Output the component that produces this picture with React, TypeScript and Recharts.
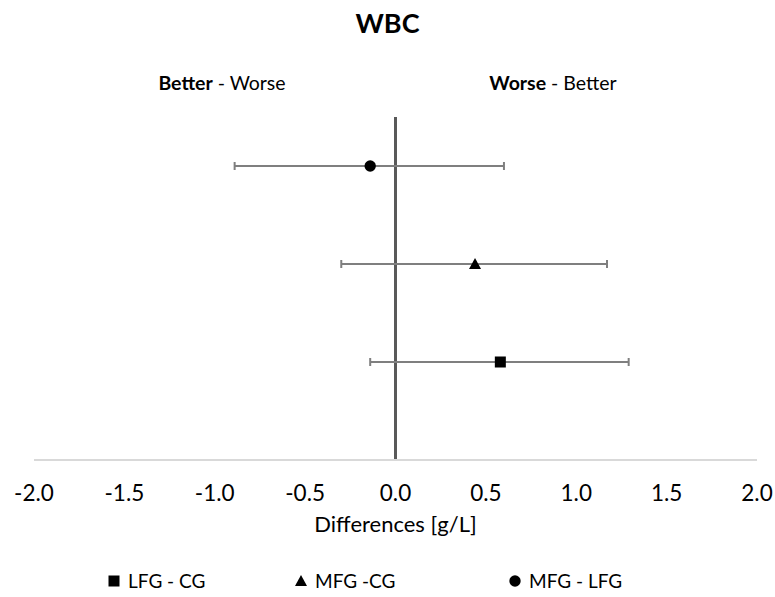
import React from 'react';
import { ScatterChart, Scatter, XAxis, YAxis, ErrorBar, ReferenceLine, Legend } from 'recharts';

const series = ['LFG - CG', 'MFG -CG', 'MFG - LFG'];
const shapes = ['square', 'triangle', 'circle'];
const rows = [1, 2, 3];
const estimates = [0.58, 0.44, -0.14];
const lower = [-0.14, -0.3, -0.89];
const upper = [1.29, 1.17, 0.6];
const xTicks = [-2, -1.5, -1, -0.5, 0, 0.5, 1, 1.5, 2];

const font = 'Lato, "Open Sans", sans-serif';

const seriesData = series.map((name, i) => [
  { x: estimates[i], y: rows[i], err: [estimates[i] - lower[i], upper[i] - estimates[i]] },
]);

const drawMarker = (shape: string, cx: number, cy: number) => {
  if (shape === 'square') return <rect x={cx - 5.5} y={cy - 5.5} width={11} height={11} fill="#000" />;
  if (shape === 'triangle')
    return <polygon points={`${cx},${cy - 6} ${cx + 6},${cy + 5} ${cx - 6},${cy + 5}`} fill="#000" />;
  return <circle cx={cx} cy={cy} r={5.7} fill="#000" />;
};

const legendContent = () => (
  <div style={{ display: 'flex', fontFamily: font, fontSize: 19, color: '#000' }}>
    {series.map((name, i) => (
      <div key={name} style={{ display: 'flex', alignItems: 'center', position: 'absolute', left: [108, 295, 509][i] }}>
        <svg width={12} height={12} style={{ marginRight: 8, overflow: 'visible' }}>{drawMarker(shapes[i], 6, 6)}</svg>
        <span>{name}</span>
      </div>
    ))}
  </div>
);

export default function App() {
  return (
    <div style={{ position: 'absolute', left: 0, top: 0, width: 775, height: 597, background: '#fff' }}>
      <div style={{ position: 'absolute', top: 6, width: 775, textAlign: 'center', fontFamily: font, fontWeight: 'bold', fontSize: 27 }}>WBC</div>
      <div style={{ position: 'absolute', top: 71, left: 0, width: 444, textAlign: 'center', fontFamily: font, fontSize: 19.5 }}>
        <b>Better</b> - Worse
      </div>
      <div style={{ position: 'absolute', top: 71, left: 331, width: 444, textAlign: 'center', fontFamily: font, fontSize: 19.5 }}>
        <b>Worse</b> - Better
      </div>
      <ScatterChart width={775} height={597} margin={{ top: 117, right: 18, left: 34, bottom: 45 }}>
        <XAxis
          type="number"
          dataKey="x"
          domain={[-2, 2]}
          ticks={xTicks}
          interval={0}
          tickFormatter={(v: number) => v.toFixed(1)}
          tickLine={false}
          axisLine={{ stroke: '#d9d9d9', strokeWidth: 2 }}
          tick={{ fill: '#000', fontSize: 22.5, fontFamily: font }}
          tickMargin={19}
          height={68}
          label={{ value: 'Differences [g/L]', position: 'insideBottom', offset: -4, fill: '#000', fontSize: 22, fontFamily: font }}
        />
        <YAxis type="number" dataKey="y" domain={[0, 3.5]} hide />
        <ReferenceLine x={0} stroke="#595959" strokeWidth={3} ifOverflow="extendDomain" />
        {series.map((name, i) => (
          <Scatter
            key={name}
            name={name}
            data={seriesData[i]}
            fill="#000"
            shape={(p: any) => drawMarker(shapes[i], p.cx, p.cy)}
            isAnimationActive={false}
          >
            <ErrorBar dataKey="err" direction="x" width={4} stroke="#7f7f7f" strokeWidth={2} />
          </Scatter>
        ))}
        <Legend content={legendContent} wrapperStyle={{ left: 0, top: 569, width: 775, height: 24 }} />
      </ScatterChart>
    </div>
  );
}
